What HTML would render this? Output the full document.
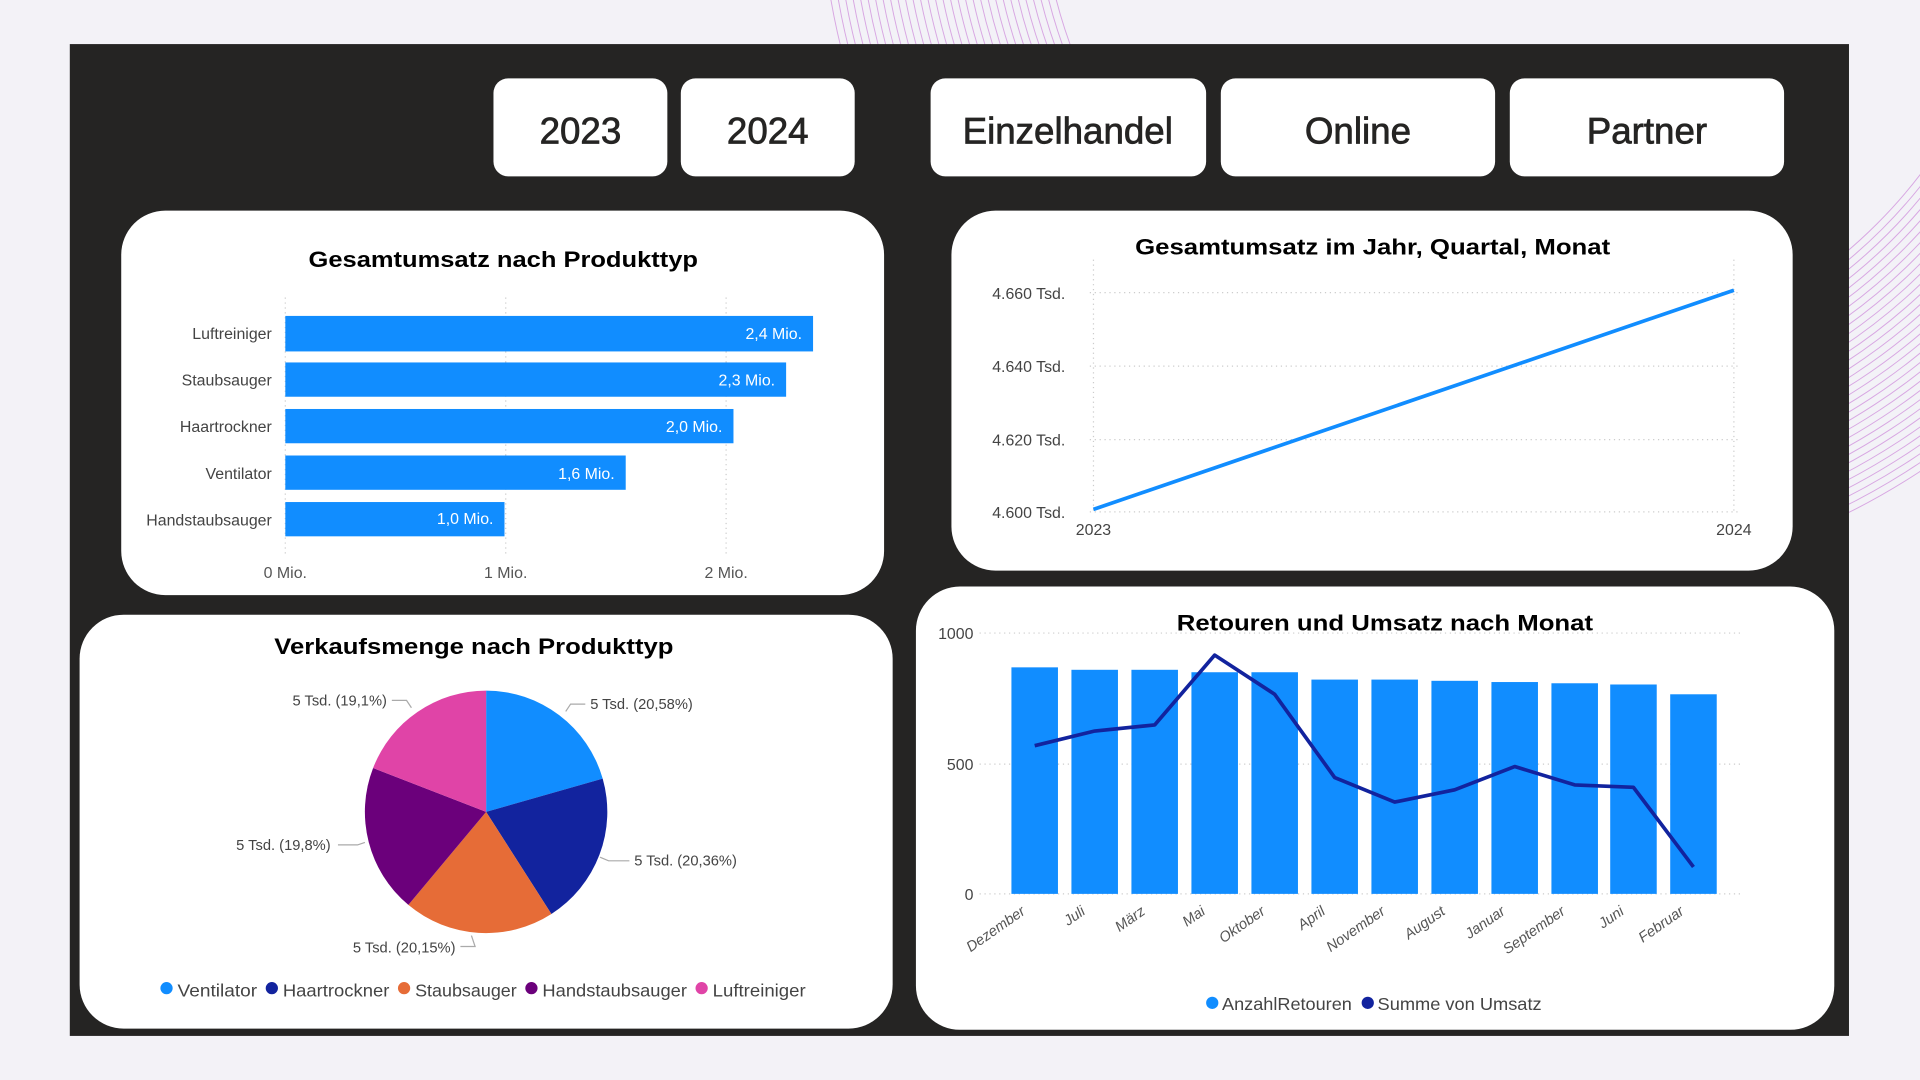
<!DOCTYPE html>
<html><head><meta charset="utf-8"><style>
html,body{margin:0;padding:0;background:#f3f2f7;}
svg{display:block}
text{font-family:"Liberation Sans",sans-serif;}
</style></head><body>
<svg width="1920" height="1080" viewBox="0 0 1568 882" xmlns="http://www.w3.org/2000/svg">
<rect width="1568" height="882" fill="#f3f2f7"/>
<defs><clipPath id="bg"><rect x="0" y="0" width="1568" height="882"/></clipPath></defs>
<g clip-path="url(#bg)" fill="none" stroke="#cf8fdc" stroke-width="0.8" opacity="0.75">
<circle cx="1250" cy="-100" r="400"/><circle cx="1250" cy="-100" r="406"/><circle cx="1250" cy="-100" r="412"/><circle cx="1250" cy="-100" r="418"/><circle cx="1250" cy="-100" r="424"/><circle cx="1250" cy="-100" r="430"/><circle cx="1250" cy="-100" r="436"/><circle cx="1250" cy="-100" r="442"/><circle cx="1250" cy="-100" r="448"/><circle cx="1250" cy="-100" r="454"/><circle cx="1250" cy="-100" r="460"/><circle cx="1250" cy="-100" r="466"/><circle cx="1250" cy="-100" r="472"/><circle cx="1250" cy="-100" r="478"/><circle cx="1250" cy="-100" r="484"/><circle cx="1250" cy="-100" r="490"/><circle cx="1250" cy="-100" r="496"/><circle cx="1250" cy="-100" r="502"/><circle cx="1250" cy="-100" r="508"/><circle cx="1250" cy="-100" r="514"/><circle cx="1250" cy="-100" r="520"/><circle cx="1250" cy="-100" r="526"/><circle cx="1250" cy="-100" r="532"/><circle cx="1250" cy="-100" r="538"/><circle cx="1250" cy="-100" r="544"/><circle cx="1250" cy="-100" r="550"/><circle cx="1250" cy="-100" r="556"/><circle cx="1250" cy="-100" r="562"/><circle cx="1250" cy="-100" r="568"/><circle cx="1250" cy="-100" r="574"/><circle cx="1250" cy="-100" r="580"/>
</g>
<rect x="57" y="36" width="1453" height="810" fill="#252423"/>

<!-- buttons -->
<g fill="#fff">
<rect x="403" y="64" width="142" height="80" rx="12"/>
<rect x="556" y="64" width="142" height="80" rx="12"/>
<rect x="760" y="64" width="225" height="80" rx="12"/>
<rect x="997" y="64" width="224" height="80" rx="12"/>
<rect x="1233" y="64" width="224" height="80" rx="12"/>
</g>
<g fill="#252423" font-size="30" text-anchor="middle" stroke="#252423" stroke-width="0.6">
<text x="474" y="117">2023</text>
<text x="627" y="117">2024</text>
<text x="872" y="117">Einzelhandel</text>
<text x="1109" y="117">Online</text>
<text x="1345" y="117">Partner</text>
</g>

<!-- card 1 -->
<rect x="99" y="172" width="623" height="314" rx="36" fill="#fff"/>
<text x="411" y="218" font-size="18" font-weight="bold" text-anchor="middle" fill="#000" textLength="318" lengthAdjust="spacingAndGlyphs">Gesamtumsatz nach Produkttyp</text>
<g stroke="#ccc" stroke-dasharray="1,3"><line x1="233" y1="243" x2="233" y2="452"/><line x1="413" y1="243" x2="413" y2="452"/><line x1="593" y1="243" x2="593" y2="452"/></g>
<g fill="#118dff">
<rect x="233" y="258" width="431" height="29"/>
<rect x="233" y="296" width="409" height="28"/>
<rect x="233" y="334" width="366" height="28"/>
<rect x="233" y="372" width="278" height="28"/>
<rect x="233" y="410" width="179" height="28"/>
</g>
<g font-size="13" fill="#444" text-anchor="end">
<text x="222" y="277">Luftreiniger</text>
<text x="222" y="315">Staubsauger</text>
<text x="222" y="353">Haartrockner</text>
<text x="222" y="391">Ventilator</text>
<text x="222" y="429">Handstaubsauger</text>
</g>
<g font-size="13" fill="#fff" text-anchor="end">
<text x="655" y="277">2,4 Mio.</text>
<text x="633" y="315">2,3 Mio.</text>
<text x="590" y="353">2,0 Mio.</text>
<text x="502" y="391">1,6 Mio.</text>
<text x="403" y="428">1,0 Mio.</text>
</g>
<g font-size="13" fill="#555" text-anchor="middle">
<text x="233" y="472">0 Mio.</text><text x="413" y="472">1 Mio.</text><text x="593" y="472">2 Mio.</text>
</g>

<!-- card 2 -->
<rect x="777" y="172" width="687" height="294" rx="36" fill="#fff"/>
<text x="1121" y="208" font-size="18" font-weight="bold" text-anchor="middle" fill="#000" textLength="388" lengthAdjust="spacingAndGlyphs">Gesamtumsatz im Jahr, Quartal, Monat</text>
<g stroke="#ccc" stroke-dasharray="1,3">
<line x1="890" y1="239" x2="1422" y2="239"/><line x1="890" y1="299" x2="1422" y2="299"/><line x1="890" y1="359" x2="1422" y2="359"/><line x1="890" y1="418" x2="1422" y2="418"/>
<line x1="893" y1="212" x2="893" y2="420"/><line x1="1416" y1="212" x2="1416" y2="420"/>
</g>
<g font-size="13" fill="#444" text-anchor="end">
<text x="870" y="244">4.660 Tsd.</text><text x="870" y="304">4.640 Tsd.</text><text x="870" y="364">4.620 Tsd.</text><text x="870" y="423">4.600 Tsd.</text>
</g>
<line x1="893" y1="416" x2="1416" y2="237" stroke="#118dff" stroke-width="3"/>
<g font-size="13" fill="#444" text-anchor="middle"><text x="893" y="437">2023</text><text x="1416" y="437">2024</text></g>

<!-- card 3 -->
<rect x="65" y="502" width="664" height="338" rx="36" fill="#fff"/>
<text x="387" y="534" font-size="18" font-weight="bold" text-anchor="middle" fill="#000" textLength="326" lengthAdjust="spacingAndGlyphs">Verkaufsmenge nach Produkttyp</text>
<path d="M397,663 L397,564 A99,99 0 0 1 492.2,635.9 Z" fill="#118dff"/>
<path d="M397,663 L492.2,635.9 A99,99 0 0 1 450.3,746.4 Z" fill="#12239e"/>
<path d="M397,663 L450.3,746.4 A99,99 0 0 1 333.5,739 Z" fill="#e66c37"/>
<path d="M397,663 L333.5,739 A99,99 0 0 1 304.7,627.2 Z" fill="#6b007b"/>
<path d="M397,663 L304.7,627.2 A99,99 0 0 1 397,564 Z" fill="#e044a7"/>
<g stroke="#aaa" fill="none"><path d="M462,581 L466,575 L478,575"/><path d="M490,700 L497,703 L514,703"/><path d="M385,764 L388,773 L376,773"/><path d="M298,688 L292,690 L276,690"/><path d="M336,578 L332,572 L320,572"/></g>
<g font-size="12" fill="#444">
<text x="482" y="579">5 Tsd. (20,58%)</text>
<text x="518" y="707">5 Tsd. (20,36%)</text>
<text x="372" y="778" text-anchor="end">5 Tsd. (20,15%)</text>
<text x="270" y="694" text-anchor="end">5 Tsd. (19,8%)</text>
<text x="316" y="576" text-anchor="end">5 Tsd. (19,1%)</text>
</g>
<g font-size="14" fill="#444">
<circle cx="136" cy="807" r="5" fill="#118dff"/><text x="145" y="814" textLength="65" lengthAdjust="spacingAndGlyphs">Ventilator</text>
<circle cx="222" cy="807" r="5" fill="#12239e"/><text x="231" y="814" textLength="87" lengthAdjust="spacingAndGlyphs">Haartrockner</text>
<circle cx="330" cy="807" r="5" fill="#e66c37"/><text x="339" y="814" textLength="83" lengthAdjust="spacingAndGlyphs">Staubsauger</text>
<circle cx="434" cy="807" r="5" fill="#6b007b"/><text x="443" y="814" textLength="118" lengthAdjust="spacingAndGlyphs">Handstaubsauger</text>
<circle cx="573" cy="807" r="5" fill="#e044a7"/><text x="582" y="814" textLength="76" lengthAdjust="spacingAndGlyphs">Luftreiniger</text>
</g>

<!-- card 4 -->
<rect x="748" y="479" width="750" height="362" rx="36" fill="#fff"/>
<text x="1131" y="515" font-size="18" font-weight="bold" text-anchor="middle" fill="#000" textLength="340" lengthAdjust="spacingAndGlyphs">Retouren und Umsatz nach Monat</text>
<g stroke="#ccc" stroke-dasharray="1,3"><line x1="800" y1="517" x2="1422" y2="517"/><line x1="800" y1="624" x2="1422" y2="624"/><line x1="800" y1="730" x2="1422" y2="730"/></g>
<g font-size="13" fill="#444" text-anchor="end"><text x="795" y="522">1000</text><text x="795" y="629">500</text><text x="795" y="735">0</text></g>
<g fill="#118dff">
<rect x="826" y="545" width="38" height="185"/>
<rect x="875" y="547" width="38" height="183"/>
<rect x="924" y="547" width="38" height="183"/>
<rect x="973" y="549" width="38" height="181"/>
<rect x="1022" y="549" width="38" height="181"/>
<rect x="1071" y="555" width="38" height="175"/>
<rect x="1120" y="555" width="38" height="175"/>
<rect x="1169" y="556" width="38" height="174"/>
<rect x="1218" y="557" width="38" height="173"/>
<rect x="1267" y="558" width="38" height="172"/>
<rect x="1315" y="559" width="38" height="171"/>
<rect x="1364" y="567" width="38" height="163"/>
</g>
<polyline points="845,609 894,597 943,592 992,535 1041,567 1090,635 1139,655 1188,645 1237,626 1286,641 1334,643 1383,708" fill="none" stroke="#12239e" stroke-width="3" stroke-linejoin="round"/>
<g font-size="12" fill="#555" font-style="italic" text-anchor="end">
<text transform="translate(838,746) rotate(-35)">Dezember</text>
<text transform="translate(887,746) rotate(-35)">Juli</text>
<text transform="translate(936,746) rotate(-35)">März</text>
<text transform="translate(985,746) rotate(-35)">Mai</text>
<text transform="translate(1034,746) rotate(-35)">Oktober</text>
<text transform="translate(1083,746) rotate(-35)">April</text>
<text transform="translate(1132,746) rotate(-35)">November</text>
<text transform="translate(1181,746) rotate(-35)">August</text>
<text transform="translate(1230,746) rotate(-35)">Januar</text>
<text transform="translate(1279,746) rotate(-35)">September</text>
<text transform="translate(1327,746) rotate(-35)">Juni</text>
<text transform="translate(1376,746) rotate(-35)">Februar</text>
</g>
<g font-size="14" fill="#444">
<circle cx="990" cy="819" r="5" fill="#118dff"/><text x="998" y="825" textLength="106" lengthAdjust="spacingAndGlyphs">AnzahlRetouren</text>
<circle cx="1117" cy="819" r="5" fill="#12239e"/><text x="1125" y="825" textLength="134" lengthAdjust="spacingAndGlyphs">Summe von Umsatz</text>
</g>
</svg>
</body></html>
